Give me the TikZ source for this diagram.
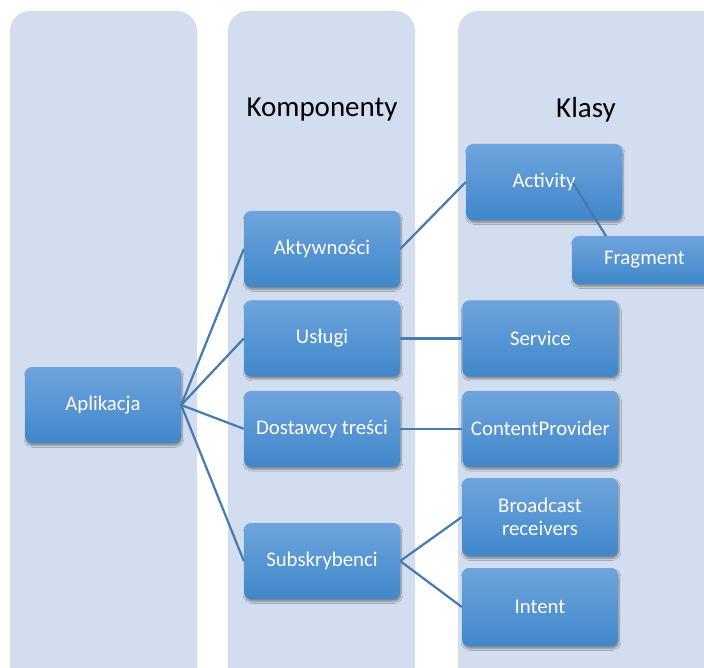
\documentclass[tikz,border=0pt]{standalone}
\usepackage{fontspec}
\setmainfont{Carlito}
\usepackage{xcolor}
\usetikzlibrary{positioning,shadows.blur}
\definecolor{colfill}{RGB}{210,222,239}
\definecolor{boxtop}{RGB}{110,164,221}
\definecolor{boxbot}{RGB}{64,135,202}
\definecolor{linkblue}{RGB}{70,122,176}

\begin{document}
\begin{tikzpicture}[
  x=1pt, y=-1pt,
  column/.style={fill=colfill, rounded corners=20pt},
  box/.style={rounded corners=7pt, top color=boxtop, bottom color=boxbot,
    text=white, align=center, minimum width=156pt, minimum height=76pt,
    inner sep=0pt, font=\fontsize{20.8}{23.5}\selectfont,
    blur shadow={shadow xshift=1pt, shadow yshift=-2.5pt,
      shadow blur steps=6, shadow opacity=40}},
  title/.style={font=\fontsize{29}{34}\selectfont},
  link/.style={draw=linkblue, line width=2.2pt}
]
  \path[use as bounding box] (0,0) rectangle (704,668);
  \clip (0,0) rectangle (704,668);

  % three background columns
  \fill[column] (10,11) rectangle (197,720);
  \fill[column] (228,11) rectangle (415,720);
  \fill[column] (458,11) rectangle (760,720);

  \node[title] (komp) at (322,110) {Komponenty};
  \node[title] (klasy) at (586,110) {Klasy};

  \node[box] (app) at (103,405) {Aplikacja};

  % components
  \node[box] (akt) at (322,249) {Aktywności};
  \node[box, below=13pt of akt] (usl) {Usługi};
  \node[box, below=14pt of usl] (dost) {Dostawcy treści};
  \node[box] (sub) at (322,561) {Subskrybenci};

  % classes
  \node[box] (activity) at (544,182) {Activity};
  \node[box, right=62pt of usl] (service) {Service};
  \node[box, right=62pt of dost] (provider) {ContentProvider};
  \node[box, minimum height=78pt] (receiver) at (540,517) {Broadcast\\receivers};
  \node[box, minimum height=78pt] (intent) at (540,607) {Intent};
  \node[box, minimum width=145pt, minimum height=48pt] (frag) at (644.5,260) {Fragment};

  \draw[link] (app.east) -- (akt.west);
  \draw[link] (app.east) -- (usl.west);
  \draw[link] (app.east) -- (dost.west);
  \draw[link] (app.east) -- (sub.west);
  \draw[link] (akt.east) -- (activity.west);
  \draw[link] (usl.east) -- (service.west);
  \draw[link] (dost.east) -- (provider.west);
  \draw[link] (sub.east) -- (receiver.west);
  \draw[link] (sub.east) -- (intent.west);
  \coordinate (actpin) at (573,183);
  \coordinate (fragpin) at (606,236);
  \draw[link] (actpin) -- (fragpin);
\end{tikzpicture}
\end{document}
